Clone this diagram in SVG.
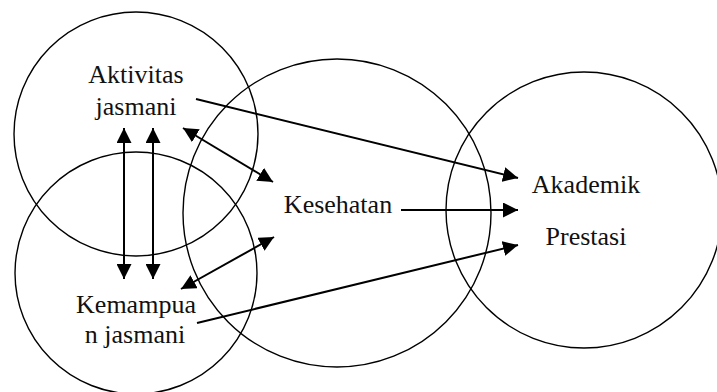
<svg xmlns="http://www.w3.org/2000/svg" width="717" height="392" viewBox="0 0 717 392">
  <style>
    .ring { fill: none; stroke: #000; stroke-width: 1.4; }
    .lbl { font-size: 26px; fill: #111; text-anchor: middle; }
    .link { fill: none; stroke: #000; stroke-width: 2; }
    .one { marker-end: url(#head); }
    .two { marker-start: url(#tail); marker-end: url(#head); }
  </style>
  <defs>
    <marker id="head" markerUnits="userSpaceOnUse" viewBox="0 0 15 15" refX="15" refY="7.5" markerWidth="15" markerHeight="15" orient="auto">
      <path d="M0,0 L15,7.5 L0,15 Z" fill="#000"/>
    </marker>
    <marker id="tail" markerUnits="userSpaceOnUse" viewBox="0 0 15 15" refX="0" refY="7.5" markerWidth="15" markerHeight="15" orient="auto">
      <path d="M15,0 L0,7.5 L15,15 Z" fill="#000"/>
    </marker>
  </defs>
  <rect width="717" height="392" fill="#fff"/>

  <g font-family="Liberation Serif, Tinos, Times New Roman, DejaVu Serif, serif">
    <g id="aktivitas">
      <circle class="ring" cx="136" cy="134" r="122"/>
      <text class="lbl" x="136" y="83">Aktivitas</text>
      <text class="lbl" x="136" y="115">jasmani</text>
    </g>
    <g id="kemampuan">
      <circle class="ring" cx="136" cy="273" r="121"/>
      <text class="lbl" x="136" y="313">Kemampua</text>
      <text class="lbl" x="135" y="343">n jasmani</text>
    </g>
    <g id="kesehatan">
      <circle class="ring" cx="337" cy="213" r="154"/>
      <text class="lbl" x="338" y="213">Kesehatan</text>
    </g>
    <g id="prestasi">
      <circle class="ring" cx="584" cy="210" r="138"/>
      <text class="lbl" x="586" y="193">Akademik</text>
      <text class="lbl" x="586" y="245">Prestasi</text>
    </g>
  </g>

  <g id="connectors">
    <line class="link two" x1="124" y1="128" x2="124" y2="279"/>
    <line class="link two" x1="153" y1="128" x2="153" y2="279"/>
    <line class="link two" x1="183" y1="128" x2="273" y2="182"/>
    <line class="link two" x1="181" y1="289" x2="274" y2="237"/>
    <line class="link one" x1="196" y1="99" x2="518" y2="178"/>
    <line class="link one" x1="401" y1="210" x2="518" y2="210"/>
    <line class="link one" x1="197" y1="323" x2="518" y2="245"/>
  </g>
</svg>
